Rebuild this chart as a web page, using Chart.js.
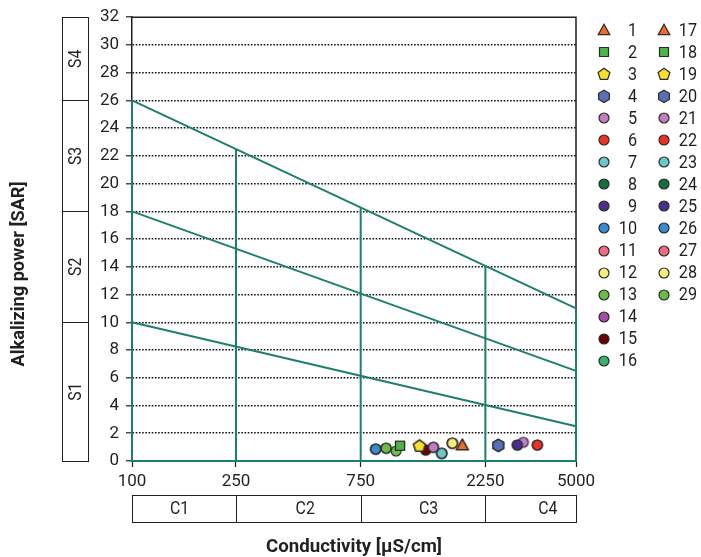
<!DOCTYPE html>
<html><head><meta charset="utf-8">
<script src="https://cdn.jsdelivr.net/npm/chart.js@4.4.1/dist/chart.umd.min.js"></script>
<style>html,body{margin:0;padding:0;background:#fff}#wrap{width:701px;height:557px;position:relative}</style>
</head><body><div id="wrap"><canvas id="c" width="701" height="557"></canvas></div>
<script>
// ---- data ----
const sampleLabels = ['1','2','3','4','5','6','7','8','9','10','11','12','13','14','15','16','17','18','19','20','21','22','23','24','25','26','27','28','29'];
const conductivity = [1837,1061,1258,2522,1423,3557,1532,1423,2983,856,1532,1682,938,1682,1330,938,1837,1061,1258,2522,3144,3557,1532,1330,2983,856,856,1682,1024];
const sar          = [1.15,1.10,1.10,1.15,0.99,1.15,0.55,0.99,1.15,0.86,0.55,1.28,0.92,1.28,0.79,0.92,1.15,1.10,1.10,1.15,1.35,1.15,0.55,0.79,1.15,0.86,0.86,1.28,0.72];
const markerColors = ['#f26b2a','#4db34d','#f7e12a','#5a6fb5','#c07dc0','#ee3124','#6cc8c8','#12703a','#4b2f8f','#3a8ad0','#f06b83','#f6ef7c','#6cbd45','#a54ca5','#6b0000','#35b56a'];
const markerShapes = ['triangle','rect','pentagon','hexagon','circle','circle','circle','circle','circle','circle','circle','circle','circle','circle','circle','circle'];
const xTickValues = [100,250,750,2250,5000];
const yTicksMin = 0, yTicksMax = 32, yStep = 2;
// boundary lines of the diagram (conductivity, SAR)
const boundaryTop    = [[100,26],[5000,11]];
const boundaryMid    = [[100,18],[5000,6.5]];
const boundaryLow    = [[100,10],[5000,2.5]];
const verticalTops   = [[100,26],[250,22.5],[750,18.3],[2250,14.1],[5000,11]];
const sClassBounds   = [0,10,18,26,32];
const sClassLabels   = ['S1','S2','S3','S4'];
const cClassBounds   = [100,250,750,2250,5000];
const cClassLabels   = ['C1','C2','C3','C4'];
const yTitle = 'Alkalizing power [SAR]';
const xTitle = 'Conductivity [\u00b5S/cm]';

const FONT = "Roboto,'Liberation Sans',sans-serif";
const GREEN = '#1d7f6e';
const INK = '#231f20';

function makeMarker(shape, fill){
  const c = document.createElement('canvas');
  c.width = 16; c.height = 16;
  const g = c.getContext('2d');
  g.fillStyle = fill; g.strokeStyle = '#2a2a2a'; g.lineWidth = 1.2;
  g.beginPath();
  if (shape === 'circle') { g.arc(8,8,5,0,Math.PI*2); }
  else if (shape === 'rect') { g.rect(3.5,3.5,9,9); }
  else if (shape === 'triangle') { g.moveTo(8,2.2); g.lineTo(13.8,12.6); g.lineTo(2.2,12.6); g.closePath(); }
  else {
    const n = shape === 'pentagon' ? 5 : 6, r = 6.2;
    for (let k=0;k<n;k++){ const a = -Math.PI/2 + k*2*Math.PI/n; const px = 8 + r*Math.cos(a), py = 8.4 + r*Math.sin(a); k?g.lineTo(px,py):g.moveTo(px,py); }
    g.closePath();
  }
  g.fill(); g.stroke();
  return c;
}
const markers = sampleLabels.map((s,i)=>makeMarker(markerShapes[i%16], markerColors[i%16]));

const lineDs = (pts) => ({type:'line', data: pts.map(p=>({x:p[0],y:p[1]})), borderColor:GREEN, borderWidth:2, pointRadius:0, fill:false, order:10, tension:0, clip:false});
const datasets = [];
sampleLabels.forEach((lab,i)=>{
  datasets.push({label:lab, data:[{x:conductivity[i], y:sar[i]}], pointStyle:markers[i], pointRadius:6, pointHoverRadius:6, order:1});
});
datasets.push(lineDs(boundaryTop));
datasets.push(lineDs(boundaryMid));
datasets.push(lineDs(boundaryLow));
verticalTops.forEach(v=>datasets.push(lineDs([[v[0],0],[v[0],v[1]]])));
datasets.push(lineDs([[cClassBounds[0],0],[cClassBounds[cClassBounds.length-1],0]]));

function fitText(ctx, text, x, y, sx){
  ctx.save(); ctx.translate(x,y); ctx.scale(sx,1); ctx.fillText(text,0,0); ctx.restore();
}

const deco = {
  id:'deco',
  beforeDatasetsDraw(chart){
    const {ctx, chartArea:a} = chart;
    ctx.save();
    ctx.strokeStyle = INK; ctx.lineWidth = 1.5;
    ctx.beginPath(); ctx.moveTo(a.left, a.top); ctx.lineTo(a.right, a.top); ctx.lineTo(a.right, a.bottom); ctx.stroke();
    ctx.restore();
  },
  afterDraw(chart){
    const {ctx, scales:{x,y}, chartArea:a} = chart;
    ctx.save();
    ctx.strokeStyle = INK; ctx.lineWidth = 1; ctx.fillStyle = INK;
    // S boxes
    const sx0 = 62, sx1 = 88;
    ctx.strokeRect(sx0+0.5, Math.round(y.getPixelForValue(32))+0.5, sx1-sx0, Math.round(y.getPixelForValue(0)-y.getPixelForValue(32)));
    sClassBounds.slice(1,-1).forEach(v=>{ const py=Math.round(y.getPixelForValue(v))+0.5; ctx.beginPath(); ctx.moveTo(sx0,py); ctx.lineTo(sx1+0.5,py); ctx.stroke(); });
    ctx.font = '18px '+FONT; ctx.textAlign='center'; ctx.textBaseline='middle';
    sClassLabels.forEach((l,i)=>{
      const cy = (y.getPixelForValue(sClassBounds[i])+y.getPixelForValue(sClassBounds[i+1]))/2;
      ctx.save(); ctx.translate((sx0+sx1)/2+1, cy); ctx.rotate(-Math.PI/2); ctx.scale(0.88,1); ctx.fillText(l,0,0); ctx.restore();
    });
    // C boxes
    const cy0 = 495, cy1 = 522;
    const cx0 = Math.round(x.getPixelForValue(100)), cx1 = Math.round(x.getPixelForValue(5000));
    ctx.strokeRect(cx0+0.5, cy0+0.5, cx1-cx0, cy1-cy0);
    cClassBounds.slice(1,-1).forEach(v=>{ const px=Math.round(x.getPixelForValue(v))+0.5; ctx.beginPath(); ctx.moveTo(px,cy0); ctx.lineTo(px,cy1); ctx.stroke(); });
    const cLabelAt = [152,460,1365,3900];
    cClassLabels.forEach((l,i)=>{ fitText(ctx, l, x.getPixelForValue(cLabelAt[i]), (cy0+cy1)/2+1, 0.88); });
    // titles
    ctx.font = 'bold 18px '+FONT;
    const wx = ctx.measureText(xTitle).width;
    fitText(ctx, xTitle, (a.left+a.right)/2, 547, 176/wx);
    const wy = ctx.measureText(yTitle).width;
    ctx.save(); ctx.translate(19, 274); ctx.rotate(-Math.PI/2); ctx.scale(185/wy,1); ctx.fillText(yTitle,0,0); ctx.restore();
    // legend
    ctx.font = '18px '+FONT; ctx.textAlign='right';
    sampleLabels.forEach((l,i)=>{
      const col = i<16?0:1, row = i<16?i:i-16;
      const yy = 30 + row*22.05;
      const mx = col?664:604;
      ctx.drawImage(markers[i], Math.round(mx-8), Math.round(yy-8));
      fitText(ctx, l, col?697:637, yy+1, 0.9);
    });
    ctx.restore();
  }
};

Chart.defaults.font.family = FONT;
Chart.defaults.font.size = 18;
Chart.defaults.color = INK;

new Chart(document.getElementById('c'), {
  type:'scatter',
  data:{datasets},
  options:{
    responsive:false, animation:false, events:[],
    layout:{padding:{left:100,right:125,top:17,bottom:66}},
    plugins:{legend:{display:false}, tooltip:{enabled:false}},
    scales:{
      x:{type:'logarithmic', min:100, max:5000,
        afterBuildTicks:(s)=>{ s.ticks = xTickValues.map(v=>({value:v})); },
        afterFit:(s)=>{ s.height = 30; },
        ticks:{autoSkip:false, maxRotation:0, padding:5, callback:(v)=>String(v), color:INK, font:{size:17}},
        grid:{drawOnChartArea:false, drawTicks:true, tickLength:6, tickColor:INK, tickWidth:1.2},
        border:{display:true, color:INK, width:1.5}
      },
      y:{type:'linear', min:yTicksMin, max:yTicksMax,
        afterFit:(s)=>{ s.width = 32; },
        ticks:{stepSize:yStep, autoSkip:false, padding:7, color:INK, font:{size:17}},
        grid:{drawTicks:true, tickLength:6, tickColor:INK, tickWidth:1.2, lineWidth:1.6,
          color:(c)=> (c.tick && (c.tick.value===yTicksMin || c.tick.value===yTicksMax)) ? 'rgba(0,0,0,0)' : '#111'},
        border:{display:true, color:INK, width:1.5, dash:[1.6,1.6]}
      }
    }
  },
  plugins:[deco]
});
</script></body></html>
